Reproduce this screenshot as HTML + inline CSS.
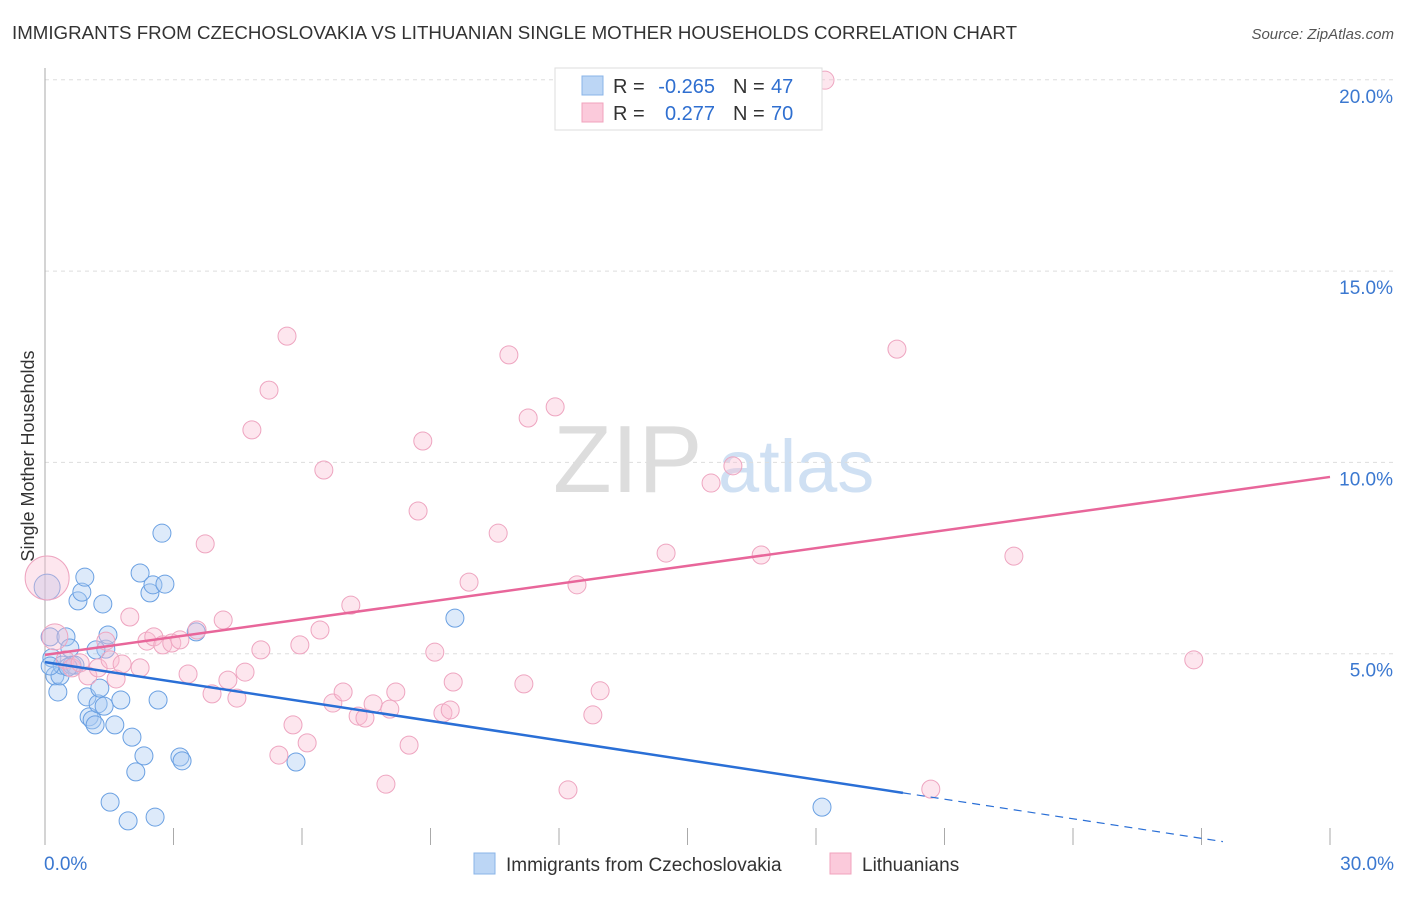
<!DOCTYPE html>
<html><head><meta charset="utf-8"><style>
body{margin:0;background:#fff;font-family:"Liberation Sans",sans-serif}
svg text{font-family:"Liberation Sans",sans-serif}
</style></head><body>
<svg id="c" width="1406" height="892">
<text x="12" y="39" font-size="18" fill="#333" textLength="1005" lengthAdjust="spacingAndGlyphs">IMMIGRANTS FROM CZECHOSLOVAKIA VS LITHUANIAN SINGLE MOTHER HOUSEHOLDS CORRELATION CHART</text>
<text x="1394" y="39" font-size="15" fill="#555" font-style="italic" text-anchor="end">Source: ZipAtlas.com</text>
<text x="34" y="456" font-size="18" fill="#333" text-anchor="middle" transform="rotate(-90 34 456)">Single Mother Households</text>
<text x="553" y="492" font-size="96" fill="#ddd" font-family="Liberation Serif">ZIP</text>
<text x="718" y="492" font-size="74" fill="#cfe0f3">atlas</text>
<g id="grid"></g><g id="pts"></g><g id="lines"></g>
<g>
<rect x="555" y="68" width="267" height="62" fill="#fff" stroke="#ddd"/>
<rect x="582" y="76" width="21" height="19" fill="#bcd6f5" stroke="#8ab4e8"/>
<rect x="582" y="103" width="21" height="19" fill="#fbcadb" stroke="#f0a3bd"/>
<text x="613" y="93" font-size="20" fill="#333">R =</text>
<text x="715" y="93" font-size="20" fill="#2f6fd0" text-anchor="end">-0.265</text>
<text x="733" y="93" font-size="20" fill="#333">N =</text>
<text x="771" y="93" font-size="20" fill="#2f6fd0">47</text>
<text x="613" y="120" font-size="20" fill="#333">R =</text>
<text x="715" y="120" font-size="20" fill="#2f6fd0" text-anchor="end">0.277</text>
<text x="733" y="120" font-size="20" fill="#333">N =</text>
<text x="771" y="120" font-size="20" fill="#2f6fd0">70</text>
</g>
<g>
<rect x="474" y="853" width="21" height="21" fill="#bcd6f5" stroke="#8ab4e8"/>
<text x="506" y="871" font-size="19" fill="#333">Immigrants from Czechoslovakia</text>
<rect x="830" y="853" width="21" height="21" fill="#fbcadb" stroke="#f0a3bd"/>
<text x="862" y="871" font-size="19" fill="#333">Lithuanians</text>
</g>
</svg>
<script>
const yTicks=[5,10,15,20];
const yTickLabels=["5.0%","10.0%","15.0%","20.0%"];
const xTicks=[0,3,6,9,12,15,18,21,24,27,30];
const xEndLabels=["0.0%","30.0%"];
const blueX=[0.05,0.12,0.16,0.23,0.30,0.35,0.40,0.49,0.58,0.63,0.70,0.77,0.86,0.93,0.98,1.03,1.10,1.17,1.24,1.28,1.35,1.38,1.42,1.47,1.52,1.63,1.77,1.94,2.03,2.12,2.22,2.31,2.45,2.52,2.57,2.64,2.73,2.80,3.15,3.20,3.53,5.86,9.57,18.14,0.12,0.54,1.19];
const blueY=[6.74,5.44,4.89,4.42,4.00,4.42,4.70,5.44,5.15,4.70,4.70,6.38,6.61,7.00,3.87,3.35,3.27,3.14,3.69,4.10,6.30,3.63,5.12,5.49,1.12,3.14,3.79,0.63,2.82,1.91,7.11,2.33,6.59,6.80,0.73,3.79,8.15,6.82,2.30,2.20,5.57,2.17,5.93,0.99,4.68,4.65,5.10];
const pinkX=[0.05,0.23,0.47,0.63,0.82,1.00,1.24,1.42,1.52,1.66,1.80,1.98,2.22,2.38,2.54,2.75,2.96,3.15,3.34,3.55,3.74,3.90,4.16,4.27,4.48,4.67,4.83,5.04,5.23,5.46,5.65,5.79,5.95,6.12,6.42,6.51,6.72,6.96,7.14,7.31,7.47,7.66,7.96,8.05,8.19,8.50,8.71,8.82,9.10,9.29,9.46,9.53,9.90,10.58,10.83,11.18,11.28,11.91,12.21,12.42,12.79,12.96,14.50,15.55,16.06,16.72,18.21,19.89,20.68,22.62,26.82];
const pinkY=[6.98,5.44,4.84,4.63,4.76,4.42,4.63,5.33,4.84,4.34,4.73,5.96,4.63,5.33,5.44,5.23,5.28,5.36,4.47,5.62,7.87,3.95,5.88,4.31,3.84,4.52,10.85,5.10,11.89,2.35,13.30,3.14,5.23,2.67,5.62,9.80,3.71,4.00,6.27,3.37,3.32,3.69,1.59,3.55,4.00,2.61,8.73,10.56,5.04,3.45,3.53,4.26,6.87,8.15,12.81,4.21,11.16,11.45,1.44,6.80,3.40,4.03,7.63,9.46,9.91,7.58,19.99,12.96,1.46,7.55,4.84];
const blueTrend=[4.78,-0.1706];
const pinkTrend=[4.97,0.155];
const X=v=>45+v*1285/30, Y=v=>845-v*191.3/5;
const NS="http://www.w3.org/2000/svg";
function mk(t,a,p){const e=document.createElementNS(NS,t);for(const k in a)e.setAttribute(k,a[k]);p.appendChild(e);return e;}
const g=document.getElementById('grid');
yTicks.forEach((v,i)=>{
 const l=mk('line',{x1:45,x2:1394,y1:Y(v),y2:Y(v),stroke:'#ddd','stroke-dasharray':'4,4'},g);
 
 
 const t=mk('text',{x:1393,y:Y(v)+23,'font-size':19,fill:'#3b78d0','text-anchor':'end'},g);t.textContent=yTickLabels[i];
 
 
});
const ax=mk('line',{x1:45,x2:45,y1:68,y2:845,stroke:'#aaa'},g);


xTicks.forEach(v=>{const l=mk('line',{x1:X(v),x2:X(v),y1:828,y2:845,stroke:'#aaa'},g);
 
 });
[[0,'start',44],[30,'end',1394]].forEach((d,i)=>{const t=mk('text',{x:d[2],y:870,'font-size':19,fill:'#3b78d0','text-anchor':d[1]},g);t.textContent=xEndLabels[i];
 
 });
const p=document.getElementById('pts');
blueX.forEach((x,i)=>{const r=i==0?13:9;const c=mk('circle',{cx:X(x),cy:Y(blueY[i]),r:r,fill:'rgba(170,202,242,0.4)',stroke:'#6aa0e2','stroke-width':1},p);
 
 });
pinkX.forEach((x,i)=>{const r=i==0?22:(i==1?13:9);const c=mk('circle',{cx:X(x),cy:Y(pinkY[i]),r:r,fill:'rgba(249,188,210,0.38)',stroke:'#eea5c0','stroke-width':1},p);
 
 });
const L=document.getElementById('lines');
const b1=mk('line',{x1:X(0),y1:Y(blueTrend[0]),x2:X(20.03),y2:Y(blueTrend[0]+blueTrend[1]*20.03),stroke:'#2a6fd6','stroke-width':2.5},L);


const b2=mk('line',{x1:X(20.03),y1:Y(blueTrend[0]+blueTrend[1]*20.03),x2:X(27.5),y2:Y(blueTrend[0]+blueTrend[1]*27.5),stroke:'#2a6fd6','stroke-width':1.2,'stroke-dasharray':'8,6'},L);


const p1=mk('line',{x1:X(0),y1:Y(pinkTrend[0]),x2:X(30),y2:Y(pinkTrend[0]+pinkTrend[1]*30),stroke:'#e8669a','stroke-width':2.5},L);


</script>
</body></html>
